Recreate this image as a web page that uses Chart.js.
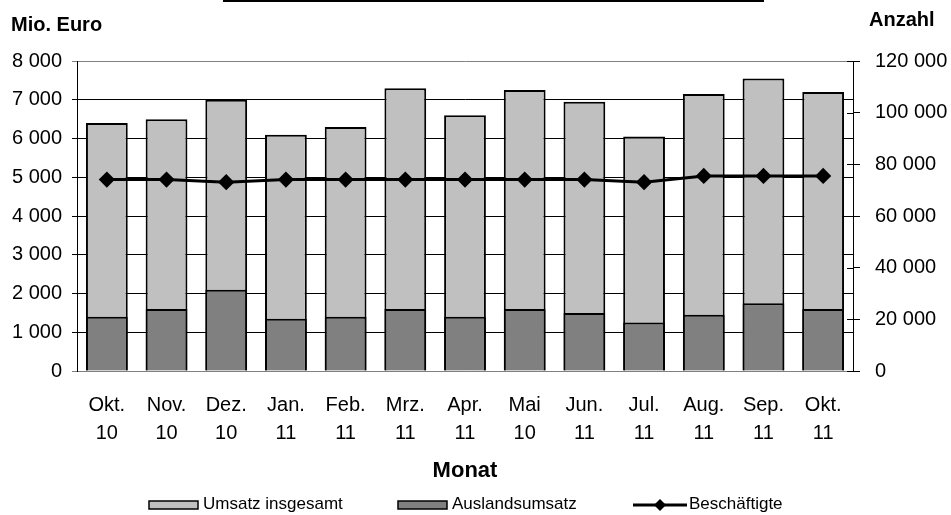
<!DOCTYPE html>
<html>
<head>
<meta charset="utf-8">
<script src="https://cdn.jsdelivr.net/npm/chart.js@4.4.0/dist/chart.umd.min.js"></script>
<style>
  body { margin: 0; background: #fff; }
  #wrap { width: 951px; height: 515px; position: relative; }
</style>
</head>
<body>
<div id="wrap"><canvas id="umsatzChart"></canvas></div>
<script>
// Daten
const monate = ['Okt.', 'Nov.', 'Dez.', 'Jan.', 'Feb.', 'Mrz.', 'Apr.', 'Mai', 'Jun.', 'Jul.', 'Aug.', 'Sep.', 'Okt.'];
const jahre = ['10', '10', '10', '11', '11', '11', '11', '10', '11', '11', '11', '11', '11'];
const umsatzInsgesamt = [6400, 6500, 7000, 6100, 6300, 7300, 6600, 7250, 6950, 6050, 7150, 7550, 7200];
const auslandsumsatz = [1400, 1600, 2100, 1350, 1400, 1600, 1400, 1600, 1500, 1250, 1450, 1750, 1600];
const beschaeftigte = [74100, 74100, 73100, 74100, 74100, 74100, 74100, 74100, 74100, 73100, 75500, 75500, 75500];
const euroTicks = { min: 0, max: 8000, step: 1000 };
const anzahlTicks = { min: 0, max: 120000, step: 20000 };

const FONT = "'Liberation Sans', Arial, sans-serif";
const labels = monate.map((m, i) => [m, jahre[i]]);

function fmt(v) {
  return String(v).replace(/\B(?=(\d{3})+(?!\d))/g, ' ');
}

Chart.defaults.color = '#000';
Chart.defaults.font.family = FONT;

// Titel, Achsenbeschriftungen und Legende
const extras = {
  id: 'extras',
  afterDraw(chart) {
    const ctx = chart.ctx;
    const area = chart.chartArea;
    ctx.save();

    // Rest der Überschrift-Linie oben
    ctx.fillStyle = '#000';
    ctx.fillRect(223, 0, 541, 2);

    // innere Teilstriche rechte Achse
    const y1 = chart.scales.y1;
    ctx.strokeStyle = '#000';
    ctx.lineWidth = 1;
    y1.ticks.forEach(t => {
      const py = Math.round(y1.getPixelForValue(t.value)) + 0.5;
      ctx.beginPath();
      ctx.moveTo(area.right - 6, py);
      ctx.lineTo(area.right, py);
      ctx.stroke();
    });

    ctx.fillStyle = '#000';
    ctx.textBaseline = 'middle';
    ctx.font = 'bold 20px ' + FONT;
    ctx.textAlign = 'left';
    ctx.fillText('Mio. Euro', 11, 25);
    ctx.fillText('Anzahl', 869, 20);

    ctx.font = 'bold 22px ' + FONT;
    ctx.textAlign = 'center';
    ctx.fillText('Monat', (area.left + area.right) / 2, 471);

    // Legende
    const ds = chart.data.datasets;
    const ly = 505;
    ctx.font = '17px ' + FONT;
    ctx.textAlign = 'left';
    const boxes = [[149, ds[0]], [398, ds[1]]];
    boxes.forEach(([bx, d]) => {
      ctx.fillStyle = d.backgroundColor;
      ctx.fillRect(bx, ly - 4, 49, 8);
      ctx.strokeStyle = '#000';
      ctx.lineWidth = 1.5;
      ctx.strokeRect(bx, ly - 4, 49, 8);
      ctx.fillStyle = '#000';
      ctx.fillText(d.label, bx + 54, ly - 1);
    });
    const d2 = ds[2];
    ctx.strokeStyle = d2.borderColor;
    ctx.lineWidth = 3;
    ctx.beginPath();
    ctx.moveTo(633, ly);
    ctx.lineTo(687, ly);
    ctx.stroke();
    ctx.fillStyle = '#000';
    ctx.beginPath();
    ctx.moveTo(660, ly - 6);
    ctx.lineTo(666, ly);
    ctx.lineTo(660, ly + 6);
    ctx.lineTo(654, ly);
    ctx.closePath();
    ctx.fill();
    ctx.fillText(d2.label, 689, ly - 1);

    ctx.restore();
  }
};

const gridColor = ctx => {
  const v = ctx.tick ? ctx.tick.value : null;
  return (v === euroTicks.max || v === euroTicks.min) ? '#808080' : '#000';
};

new Chart(document.getElementById('umsatzChart'), {
  type: 'bar',
  data: {
    labels: labels,
    datasets: [
      {
        label: 'Umsatz insgesamt',
        data: umsatzInsgesamt,
        backgroundColor: '#C0C0C0',
        borderColor: '#000',
        borderWidth: 2,
        grouped: false,
        order: 3,
        yAxisID: 'y'
      },
      {
        label: 'Auslandsumsatz',
        data: auslandsumsatz,
        backgroundColor: '#808080',
        borderColor: '#000',
        borderWidth: 2,
        grouped: false,
        order: 2,
        yAxisID: 'y'
      },
      {
        type: 'line',
        label: 'Beschäftigte',
        data: beschaeftigte,
        borderColor: '#000',
        backgroundColor: '#000',
        borderWidth: 3,
        pointStyle: 'rectRot',
        pointRadius: 6,
        pointBackgroundColor: '#000',
        tension: 0,
        order: 1,
        yAxisID: 'y1'
      }
    ]
  },
  plugins: [extras],
  options: {
    responsive: true,
    maintainAspectRatio: false,
    animation: false,
    layout: { padding: { top: 61, left: 0, right: 0, bottom: 0 } },
    datasets: {
      bar: { categoryPercentage: 1, barPercentage: 0.7 }
    },
    plugins: {
      legend: { display: false },
      tooltip: { enabled: false }
    },
    scales: {
      x: {
        grid: { display: false, drawTicks: false },
        border: { color: '#808080', width: 1 },
        ticks: { padding: 20, font: { size: 20, lineHeight: 1.4 }, maxRotation: 0, autoSkip: false },
        afterFit: s => { s.height = 144; }
      },
      y: {
        position: 'left',
        min: euroTicks.min,
        max: euroTicks.max,
        ticks: { stepSize: euroTicks.step, padding: 10, font: { size: 20 }, callback: v => fmt(v) },
        grid: { color: gridColor, tickLength: 5, lineWidth: 1 },
        border: { color: '#000', width: 1 },
        afterFit: s => { s.width = 77; }
      },
      y1: {
        position: 'right',
        min: anzahlTicks.min,
        max: anzahlTicks.max,
        ticks: { stepSize: anzahlTicks.step, padding: 15, font: { size: 20 }, callback: v => fmt(v) },
        grid: { drawOnChartArea: false, tickLength: 7, color: '#000' },
        border: { color: '#000', width: 1 },
        afterFit: s => { s.width = 98; }
      }
    }
  }
});
</script>
</body>
</html>
